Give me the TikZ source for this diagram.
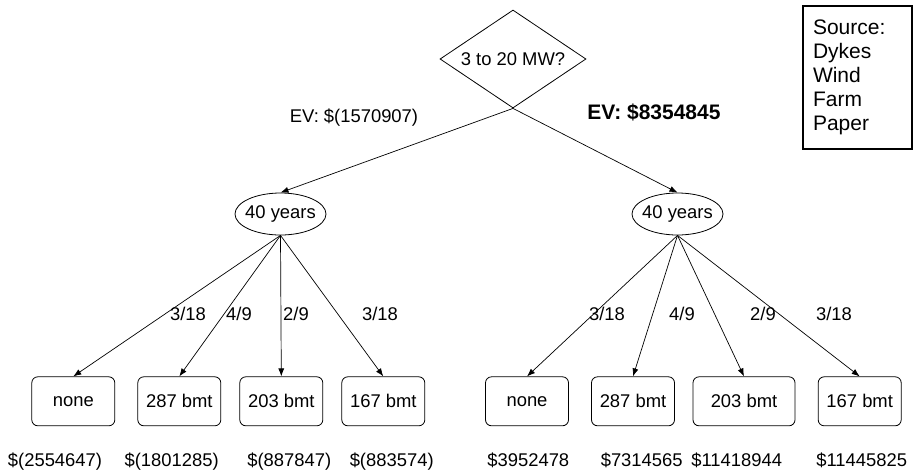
\documentclass[tikz,border=0pt]{standalone}
\usepackage{fontspec}
\setmainfont{Liberation Sans}
\usetikzlibrary{shapes.geometric,arrows.meta}
\begin{document}
\begin{tikzpicture}[x=1pt,y=-1pt,
  every node/.style={font=\fontsize{18.4}{22}\selectfont, inner sep=0pt},
  decision/.style={draw, diamond, aspect=1.5, minimum width=146pt, minimum height=98pt, line width=0.8pt},
  chance/.style={draw, ellipse, minimum width=91pt, minimum height=42pt, line width=0.8pt},
  outcome/.style={draw, rectangle, rounded corners=6pt, minimum width=83pt, minimum height=49pt, line width=0.8pt},
  arr/.style={line width=0.7pt, -{Latex[length=8pt,width=6pt]}},
  lbl/.style={anchor=base},
  val/.style={anchor=base}]
\useasboundingbox (0,0) rectangle (913,472);

% decision
\node[decision] (d) at (513,59) {\makebox[0pt]{3 to 20 MW?}};

% source
\node[draw, line width=2pt, rectangle, anchor=north west, minimum width=109pt, minimum height=143pt,
      text width=89pt, inner xsep=10pt, align=left, font=\fontsize{21}{24}\selectfont] (src) at (802,5)
      {Source:\\Dykes\\Wind\\Farm\\Paper};

% chance nodes
\node[chance] (cl) at (280.5,214) {\makebox[0pt]{40 years}};
\node[chance] (cr) at (677.5,214) {\makebox[0pt]{40 years}};

\draw[arr] (d.south) -- (cl.north);
\draw[arr] (d.south) -- (cr.north);
\node[lbl] (evl) at (354,122) {EV: \$(1570907)};
\node[lbl, font=\fontsize{21}{24}\selectfont\bfseries] (evr) at (654,119.5) {EV: \$8354845};

% left outcomes
\node[outcome] (l1) at (73.3,401.3) {none};
\node[outcome] (l2) at (179.3,401.3) {287 bmt};
\node[outcome] (l3) at (281.3,401.3) {203 bmt};
\node[outcome] (l4) at (383.3,401.3) {167 bmt};
% right outcomes
\node[outcome] (r1) at (527,401.3) {none};
\node[outcome] (r2) at (633,401.3) {287 bmt};
\node[outcome, minimum width=102pt] (r3) at (744,401.3) {203 bmt};
\node[outcome] (r4) at (859.7,401.3) {167 bmt};

\foreach \b in {l1,l2,l3,l4} \draw[arr] (cl.south) -- (\b.north);
\foreach \b in {r1,r2,r3,r4} \draw[arr] (cr.south) -- (\b.north);

% probabilities
\node[lbl] (pl1) at (188,320.5) {3/18};
\node[lbl] (pl2) at (239,320.5) {4/9};
\node[lbl] (pl3) at (296,320.5) {2/9};
\node[lbl] (pl4) at (380,320.5) {3/18};
\node[lbl] (pr1) at (607,320.5) {3/18};
\node[lbl] (pr2) at (682,320.5) {4/9};
\node[lbl] (pr3) at (763,320.5) {2/9};
\node[lbl] (pr4) at (834,320.5) {3/18};

% values
\node[val] (vl1) at (55,466.5) {\$(2554647)};
\node[val] (vl2) at (171.7,466.5) {\$(1801285)};
\node[val] (vl3) at (289.3,466.5) {\$(887847)};
\node[val] (vl4) at (391.7,466.5) {\$(883574)};
\node[val] (vr1) at (528.3,466.5) {\$3952478};
\node[val] (vr2) at (641.7,466.5) {\$7314565};
\node[val] (vr3) at (736.7,466.5) {\$11418944};
\node[val] (vr4) at (861.7,466.5) {\$11445825};
\end{tikzpicture}
\end{document}
